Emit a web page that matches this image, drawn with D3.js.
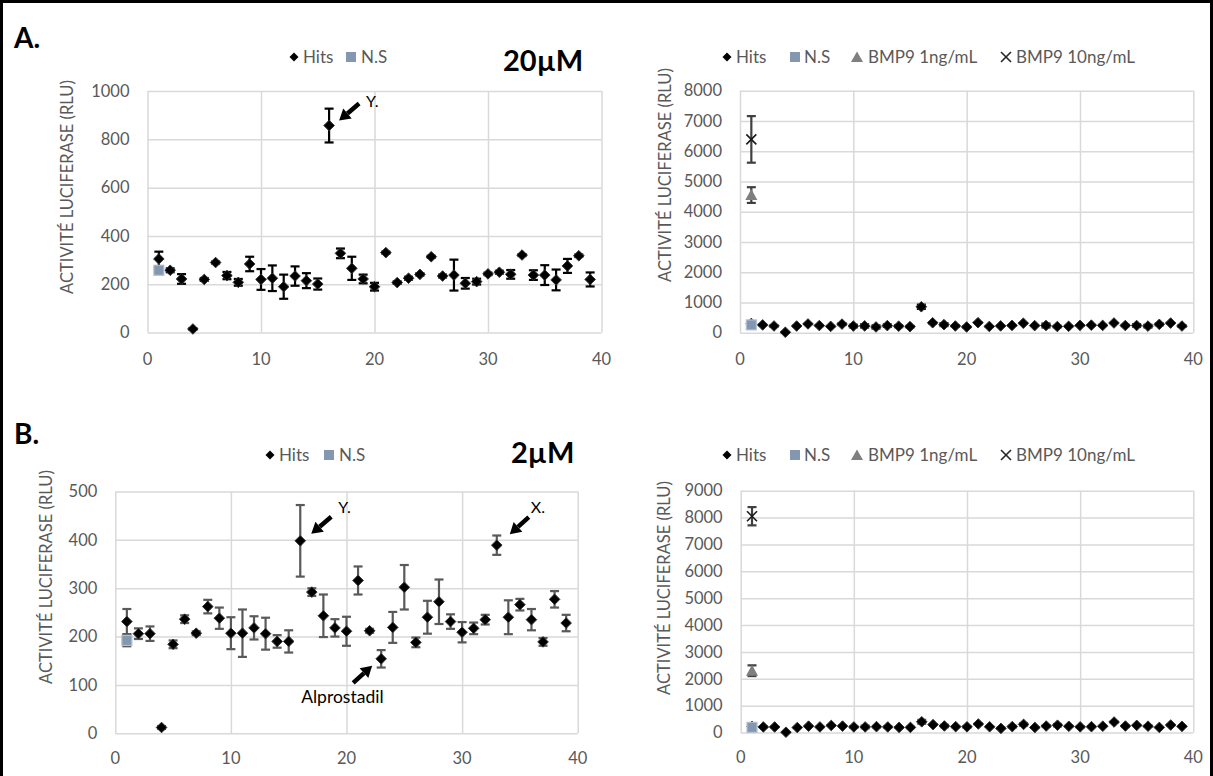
<!DOCTYPE html>
<html><head><meta charset="utf-8">
<script src="https://cdn.jsdelivr.net/npm/d3@7"></script>
<style>
html,body{margin:0;padding:0;background:#fff;}
svg{display:block;font-family:Lato,"Open Sans",sans-serif;}
</style></head>
<body><svg id="c" width="1213" height="776"></svg>
<script>
// ---------- DATA ----------
const compounds = [1,2,3,4,5,6,7,8,9,10,11,12,13,14,15,16,17,18,19,20,21,22,23,24,25,26,27,28,29,30,31,32,33,34,35,36,37,38,39];
const hits20 = [305,258,222,15,220,290,236,208,284,220,225,190,234,215,201,857,328,266,222,190,331,207,225,241,314,234,238,204,211,243,250,241,321,238,238,218,276,318,220];
const hits20Err = [30,8,20,3,6,4,15,14,30,43,53,50,40,31,23,70,20,48,18,16,4,5,6,5,4,6,64,22,12,5,6,18,4,20,41,43,29,5,29];
const hits2 = [231,206,206,12,184,236,207,262,238,207,207,218,206,190,190,398,292,243,218,211,316,212,154,219,302,188,240,272,231,209,217,235,389,240,266,235,189,277,228];
const hits2Err = [26,11,15,3,8,8,4,14,22,33,49,24,33,13,23,74,8,44,18,30,29,4,18,32,46,10,34,46,15,21,12,10,20,35,12,22,8,17,17];
const nsX = [1];
const ns20 = [258], ns20Err = [8];
const ns2 = [192], ns2Err = [12];
const bmp1X = [1], bmp10X = [1];
const bmp1_20 = [4550], bmp1_20Err = [260];
const bmp10_20 = [6390], bmp10_20Err = [770];
const bmp1_2 = [2300], bmp1_2Err = [200];
const bmp10_2 = [8050], bmp10_2Err = [340];
const xTicks = [0,10,20,30,40];
const yTicksA1 = [0,200,400,600,800,1000];
const yTicksA2 = [0,1000,2000,3000,4000,5000,6000,7000,8000];
const yTicksB1 = [0,100,200,300,400,500];
const yTicksB2 = [0,1000,2000,3000,4000,5000,6000,7000,8000,9000];
const legendSmall = ["Hits","N.S"];
const legendBig = ["Hits","N.S","BMP9 1ng/mL","BMP9 10ng/mL"];
const yTitle = "ACTIVITÉ LUCIFERASE (RLU)";

// ---------- DRAW ----------
const svg = d3.select("#c");
const GRID = "#d9d9d9", TXT = "#595959", NSFILL = "#8497b0";

function diamond(r){return `M0,${-r}L${r},0L0,${r}L${-r},0Z`;}

function makeChart(cfg){
  const x = d3.scaleLinear().domain([0,40]).range([cfg.x0,cfg.x1]);
  const y = d3.scaleLinear().domain([0,cfg.yMax]).range([cfg.yb,cfg.yt]);
  const g = svg.append("g");
  const gy = g.append("g").attr("transform",`translate(${cfg.x0},0)`)
    .call(d3.axisLeft(y).tickValues(cfg.yTicks).tickSize(-(cfg.x1-cfg.x0)).tickFormat(""));
  const gx = g.append("g").attr("transform",`translate(0,${cfg.yb})`)
    .call(d3.axisBottom(x).tickValues(xTicks).tickSize(-(cfg.yb-cfg.yt)).tickFormat(""));
  [gy,gx].forEach(a=>{a.select(".domain").remove();a.selectAll("line").attr("stroke",GRID).attr("stroke-width",1.5);});
  g.append("g").selectAll("text").data(cfg.yTicks).join("text")
    .attr("x",cfg.x0-18).attr("y",d=>y(d)).attr("dy","0.35em")
    .attr("text-anchor","end").attr("fill",TXT).attr("font-size",16.5).text(d=>d);
  g.append("g").selectAll("text").data(xTicks).join("text")
    .attr("x",d=>x(d)).attr("y",cfg.yb+cfg.xlabOff).attr("dy","0.35em")
    .attr("text-anchor","middle").attr("fill",TXT).attr("font-size",16.5).text(d=>d);
  g.append("text").attr("transform",`translate(${cfg.titleX},${cfg.titleY}) rotate(-90)`)
    .attr("text-anchor","middle").attr("dy","0.35em").attr("fill",TXT).attr("font-size",16.5)
    .text(yTitle);
  function errBars(xs,vals,errs,color,w){
    const data = xs.map((c,i)=>({c,v:vals[i],e:errs[i]}));
    const eg = g.append("g").attr("stroke",color).attr("stroke-width",w);
    data.forEach(d=>{
      const xx = x(d.c), y1 = y(d.v+d.e), y2 = y(d.v-d.e);
      eg.append("line").attr("x1",xx).attr("x2",xx).attr("y1",y1).attr("y2",y2);
      eg.append("line").attr("x1",xx-4.5).attr("x2",xx+4.5).attr("y1",y1).attr("y2",y1);
      eg.append("line").attr("x1",xx-4.5).attr("x2",xx+4.5).attr("y1",y2).attr("y2",y2);
    });
  }
  errBars(compounds,cfg.hits,cfg.hitsErr,cfg.errColor,2.2);
  g.append("g").selectAll("path").data(compounds).join("path")
    .attr("transform",(d,i)=>`translate(${x(d)},${y(cfg.hits[i])})`)
    .attr("d",diamond(5.3)).attr("fill","#000").attr("stroke","#333").attr("stroke-width",1);
  errBars(nsX,cfg.ns,cfg.nsErr,cfg.errColor,2.2);
  g.append("g").selectAll("rect").data(nsX).join("rect")
    .attr("x",(d)=>x(d)-5).attr("y",(d,i)=>y(cfg.ns[i])-5).attr("width",10).attr("height",10)
    .attr("fill",NSFILL).attr("stroke","#b4c0d2").attr("stroke-width",1.2);
  if(cfg.bmp1){
    errBars(bmp1X,cfg.bmp1,cfg.bmp1Err,"#404040",2.2);
    g.append("g").selectAll("path").data(bmp1X).join("path")
      .attr("transform",(d,i)=>`translate(${x(d)},${y(cfg.bmp1[i])})`)
      .attr("d","M0,-6L6,5L-6,5Z").attr("fill","#7f7f7f");
    errBars(bmp10X,cfg.bmp10,cfg.bmp10Err,"#404040",2.2);
    const xg = g.append("g").attr("stroke","#1a1a1a").attr("stroke-width",1.6);
    bmp10X.forEach((d,i)=>{
      const cx=x(d), cy=y(cfg.bmp10[i]);
      xg.append("line").attr("x1",cx-5).attr("y1",cy-5).attr("x2",cx+5).attr("y2",cy+5);
      xg.append("line").attr("x1",cx-5).attr("y1",cy+5).attr("x2",cx+5).attr("y2",cy-5);
    });
  }
  return {x,y,g};
}

function legend(items, positions, ly){
  const lg = svg.append("g");
  items.forEach((t,i)=>{
    const p = positions[i];
    if(i===0) lg.append("path").attr("transform",`translate(${p.m},${ly})`).attr("d",diamond(4.5)).attr("fill","#000");
    if(i===1) lg.append("rect").attr("x",p.m-5).attr("y",ly-5).attr("width",10).attr("height",10).attr("fill",NSFILL);
    if(i===2) lg.append("path").attr("transform",`translate(${p.m},${ly})`).attr("d","M0,-5.5L6,5L-6,5Z").attr("fill","#7f7f7f");
    if(i===3){
      lg.append("line").attr("x1",p.m-5).attr("y1",ly-5).attr("x2",p.m+5).attr("y2",ly+5).attr("stroke","#262626").attr("stroke-width",1.6);
      lg.append("line").attr("x1",p.m-5).attr("y1",ly+5).attr("x2",p.m+5).attr("y2",ly-5).attr("stroke","#262626").attr("stroke-width",1.6);
    }
    lg.append("text").attr("x",p.t).attr("y",ly).attr("dy","0.35em").attr("fill",TXT).attr("font-size",17).text(t);
  });
}

function arrow(x1,y1,x2,y2){
  const ang = Math.atan2(y2-y1,x2-x1), L=11, W=6.5;
  const bx = x2 - L*Math.cos(ang), by = y2 - L*Math.sin(ang);
  svg.append("line").attr("x1",x1).attr("y1",y1).attr("x2",bx).attr("y2",by).attr("stroke","#000").attr("stroke-width",4.5);
  const px = -Math.sin(ang)*W, py = Math.cos(ang)*W;
  svg.append("path").attr("d",`M${x2},${y2}L${bx+px},${by+py}L${bx-px},${by-py}Z`).attr("fill","#000");
}

const A1 = makeChart({x0:147.5,x1:601.5,yt:91,yb:332.6,yMax:1000,yTicks:yTicksA1,xlabOff:27,
  hits:hits20,hitsErr:hits20Err,ns:ns20,nsErr:ns20Err,errColor:"#000",titleX:67,titleY:187});
const A2 = makeChart({x0:740,x1:1193.3,yt:90.7,yb:332.7,yMax:8000,yTicks:yTicksA2,xlabOff:27,
  hits:hits20,hitsErr:hits20Err,ns:ns20,nsErr:ns20Err,errColor:"#000",titleX:665,titleY:175,
  bmp1:bmp1_20,bmp1Err:bmp1_20Err,bmp10:bmp10_20,bmp10Err:bmp10_20Err});
const B1 = makeChart({x0:115.3,x1:577.7,yt:491.5,yb:733.3,yMax:500,yTicks:yTicksB1,xlabOff:25,
  hits:hits2,hitsErr:hits2Err,ns:ns2,nsErr:ns2Err,errColor:"#595959",titleX:46,titleY:577});
const B2 = makeChart({x0:740.7,x1:1193.3,yt:490.7,yb:732.5,yMax:9000,yTicks:yTicksB2,xlabOff:25,
  hits:hits2,hitsErr:hits2Err,ns:ns2,nsErr:ns2Err,errColor:"#595959",titleX:664,titleY:588,
  bmp1:bmp1_2,bmp1Err:bmp1_2Err,bmp10:bmp10_2,bmp10Err:bmp10_2Err});

legend(legendSmall,[{m:294,t:303},{m:351,t:361}],57);
legend(legendSmall,[{m:270,t:279},{m:329,t:339}],455);
legend(legendBig,[{m:727,t:736},{m:795,t:804},{m:857,t:868},{m:1006,t:1016}],57);
legend(legendBig,[{m:727,t:736},{m:795,t:804},{m:857,t:868},{m:1006,t:1016}],455);

svg.append("text").attr("x",503).attr("y",71).attr("font-size",29).attr("font-weight","bold").attr("fill","#000").text("20µM");
svg.append("text").attr("x",511).attr("y",463).attr("font-size",29).attr("font-weight","bold").attr("fill","#000").text("2µM");
svg.append("text").attr("x",14).attr("y",48).attr("font-size",28).attr("font-weight","bold").attr("fill","#000").text("A.");
svg.append("text").attr("x",14).attr("y",444).attr("font-size",28).attr("font-weight","bold").attr("fill","#000").text("B.");

{
  const px = A1.x(16), py = A1.y(hits20[15]);
  arrow(px+30,py-22,px+10,py-5);
  svg.append("text").attr("x",px+37).attr("y",py-19).attr("font-size",16).attr("fill","#000").text("Y.");
}
{
  const px = B1.x(16), py = B1.y(hits2[15]);
  arrow(px+31,py-24,px+11,py-7);
  svg.append("text").attr("x",px+38).attr("y",py-28).attr("font-size",16).attr("fill","#000").text("Y.");
  const qx = B1.x(33), qy = B1.y(hits2[32]);
  arrow(qx+32,qy-28,qx+13,qy-11);
  svg.append("text").attr("x",qx+34).attr("y",qy-32).attr("font-size",16).attr("fill","#000").text("X.");
  const ax = B1.x(23), ay = B1.y(hits2[22]);
  arrow(ax-28,ay+24,ax-9,ay+7);
  svg.append("text").attr("x",ax-80).attr("y",ay+44).attr("font-size",17.5).attr("fill","#000").text("Alprostadil");
}

svg.append("rect").attr("x",1.5).attr("y",1.5).attr("width",1210).attr("height",790)
  .attr("fill","none").attr("stroke","#000").attr("stroke-width",3);
</script></body></html>
